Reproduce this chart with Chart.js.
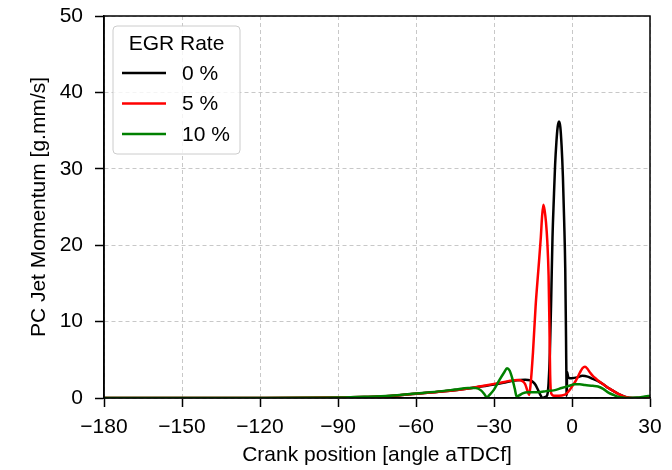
<!DOCTYPE html>
<html>
<head>
<meta charset="utf-8">
<script src="https://cdn.jsdelivr.net/npm/chart.js@4.4.1/dist/chart.umd.min.js"></script>
<style>
  html, body { margin: 0; padding: 0; background: #fff; }
  #wrap { width: 672px; height: 470px; }
</style>
</head>
<body>
<div id="wrap"><canvas id="myChart" width="672" height="470"></canvas></div>
<script>
// EGR rate series
const seriesLabels = ["0 %", "5 %", "10 %"];
const seriesColors = ["#000000", "#ff0000", "#008000"];

const crankBlack = [-180, -150, -120, -100, -90, -80, -70, -60, -50, -40, -35, -30, -25, -22, -18, -16, -15, -14, -13, -12, -11.3, -10.5, -10, -9.5, -9, -8.5, -8, -7.5, -7, -6.5, -6, -5.5, -5, -4.5, -4, -3.5, -3, -2.6, -2.3, -2.1, -2.0, -1.9, -1.5, -1, 0, 2, 4, 6, 8, 10, 12, 14, 16, 18, 20, 22, 25, 30];
const momentumBlack = [0, 0, 0, 0.02, 0.05, 0.12, 0.25, 0.55, 0.85, 1.25, 1.5, 1.75, 2.1, 2.3, 2.4, 2.3, 2.1, 1.7, 1.0, 0.3, 0, 0.1, 0.2, 0.4, 2, 6, 13, 21, 26, 30.5, 33.5, 35.5, 36.2, 35.5, 33, 29, 23, 17, 8, 1, 0.3, 3.4, 2.8, 2.6, 2.6, 2.7, 2.9, 2.8, 2.5, 2.2, 1.8, 1.3, 0.9, 0.5, 0.2, 0.05, 0, 0];

const crankRed = [-180, -150, -120, -100, -90, -80, -70, -60, -50, -40, -35, -30, -26, -23, -21, -19, -18, -17, -16.5, -16, -15, -14, -13, -12, -11.5, -11, -10.5, -10, -9.5, -9, -8.7, -8.4, -8, -7, -5, -3, -2, -1, 0, 1, 2, 3, 4, 5, 6, 7, 8, 9, 10, 12, 14, 16, 18, 20, 22, 25, 30];
const momentumRed = [0, 0, 0, 0.02, 0.05, 0.12, 0.25, 0.55, 0.85, 1.25, 1.55, 1.85, 2.1, 2.3, 2.35, 2.2, 1.8, 0.8, 0.4, 1.5, 6, 12, 16.5, 21, 23.8, 25.3, 24.5, 23, 20.5, 16, 10, 3, 0.6, 0.3, 0.3, 0.4, 0.6, 1.0, 1.5, 2.0, 2.6, 3.3, 3.9, 4.1, 3.8, 3.3, 2.9, 2.6, 2.3, 1.8, 1.3, 0.9, 0.5, 0.2, 0.05, 0, 0];

const crankGreen = [-180, -150, -120, -100, -90, -80, -70, -60, -50, -45, -40, -37, -35, -33.5, -32.7, -32, -30, -28, -26, -25, -24, -23, -22, -21.3, -20.5, -19, -17, -15, -12, -10, -7, -4, -1, 1, 3, 5, 8, 10, 12, 14, 16, 18, 20, 22, 25, 28, 30];
const momentumGreen = [0, 0, 0, 0.02, 0.05, 0.15, 0.3, 0.6, 0.9, 1.1, 1.3, 1.3, 1.0, 0.4, 0.05, 0.3, 1.1, 2.3, 3.4, 3.9, 3.6, 2.6, 1.2, 0.2, 0.3, 0.6, 0.75, 0.75, 0.8, 0.9, 1.0, 1.3, 1.6, 1.8, 1.8, 1.7, 1.6, 1.5, 1.2, 0.7, 0.4, 0.15, 0.05, 0, 0.05, 0.2, 0.3];

const xTicks = [-180, -150, -120, -90, -60, -30, 0, 30];
const yTicks = [0, 10, 20, 30, 40, 50];

const FONT = "'Liberation Sans', Arial, sans-serif";

function toPoints(xs, ys) {
  return xs.map(function (x, i) { return { x: x, y: ys[i] }; });
}

function minusLabel(v) {
  return v < 0 ? "\u2212" + Math.abs(v) : String(v);
}

// draws the closed frame round the plot area
const framePlugin = {
  id: "frame",
  afterDatasetsDraw(chart) {
    const a = chart.chartArea;
    const ctx = chart.ctx;
    ctx.save();
    ctx.strokeStyle = "#000";
    ctx.lineWidth = 1.5;
    ctx.strokeRect(a.left, a.top, a.right - a.left, a.bottom - a.top);
    ctx.restore();
  }
};

// matplotlib-style legend box in the upper left corner
const legendBoxPlugin = {
  id: "legendBox",
  afterDraw(chart) {
    const a = chart.chartArea;
    const ctx = chart.ctx;
    const x = a.left + 9, y = a.top + 10, w = 127, h = 128;
    ctx.save();
    ctx.beginPath();
    ctx.roundRect(x, y, w, h, 4);
    ctx.fillStyle = "rgba(255,255,255,0.8)";
    ctx.fill();
    ctx.strokeStyle = "#cccccc";
    ctx.lineWidth = 1;
    ctx.stroke();
    ctx.fillStyle = "#000";
    ctx.font = "21px " + FONT;
    ctx.textBaseline = "middle";
    ctx.textAlign = "center";
    ctx.fillText("EGR Rate", x + w / 2, y + 18);
    ctx.textAlign = "left";
    chart.data.datasets.forEach(function (ds, i) {
      const ly = y + 47 + i * 30.5;
      ctx.strokeStyle = ds.borderColor;
      ctx.lineWidth = 2.5;
      ctx.beginPath();
      ctx.moveTo(x + 9, ly);
      ctx.lineTo(x + 53, ly);
      ctx.stroke();
      ctx.fillText(ds.label, x + 69, ly + 1);
    });
    ctx.restore();
  }
};

const gridStyle = {
  color: "#c8c8c8",
  lineWidth: 1,
  tickLength: 9,
  tickColor: "#000",
  tickWidth: 1.5,
  tickBorderDash: []
};

const ctx = document.getElementById("myChart").getContext("2d");
const momentumChart = new Chart(ctx, {
  type: "line",
  data: {
    datasets: [
      { label: seriesLabels[0], data: toPoints(crankBlack, momentumBlack), borderColor: seriesColors[0], order: 2 },
      { label: seriesLabels[1], data: toPoints(crankRed, momentumRed), borderColor: seriesColors[1], order: 1 },
      { label: seriesLabels[2], data: toPoints(crankGreen, momentumGreen), borderColor: seriesColors[2], order: 0 }
    ]
  },
  options: {
    responsive: false,
    devicePixelRatio: 1,
    animation: false,
    layout: { padding: { left: 0, right: 22, top: 16, bottom: 0 } },
    elements: {
      point: { radius: 0 },
      line: { borderWidth: 2.5, cubicInterpolationMode: "monotone", fill: false }
    },
    plugins: {
      legend: { display: false },
      tooltip: { enabled: false }
    },
    scales: {
      x: {
        type: "linear",
        min: -180,
        max: 30,
        afterBuildTicks: function (scale) {
          scale.ticks = xTicks.map(function (v) { return { value: v }; });
        },
        afterFit: function (scale) {
          scale.height = 72;
          scale.paddingLeft = 0;
          scale.paddingRight = 0;
        },
        ticks: {
          color: "#000",
          font: { family: FONT, size: 21 },
          padding: 8,
          maxRotation: 0,
          callback: minusLabel
        },
        grid: gridStyle,
        border: { display: true, color: "#000", width: 1.5, dash: [4, 3] },
        title: {
          display: true,
          text: "Crank position [angle aTDCf]",
          color: "#000",
          font: { family: FONT, size: 21 },
          padding: { top: 0, bottom: 2 }
        }
      },
      y: {
        type: "linear",
        min: 0,
        max: 50,
        afterBuildTicks: function (scale) {
          scale.ticks = yTicks.map(function (v) { return { value: v }; });
        },
        afterFit: function (scale) {
          scale.width = 104;
          scale.paddingTop = 0;
          scale.paddingBottom = 0;
        },
        ticks: {
          color: "#000",
          font: { family: FONT, size: 21 },
          padding: 12
        },
        grid: gridStyle,
        border: { display: true, color: "#000", width: 1.5, dash: [4, 3] },
        title: {
          display: true,
          text: "PC Jet Momentum [g.mm/s]",
          color: "#000",
          font: { family: FONT, size: 21 },
          padding: { top: 27, bottom: 0 }
        }
      }
    }
  },
  plugins: [framePlugin, legendBoxPlugin]
});
</script>
</body>
</html>
